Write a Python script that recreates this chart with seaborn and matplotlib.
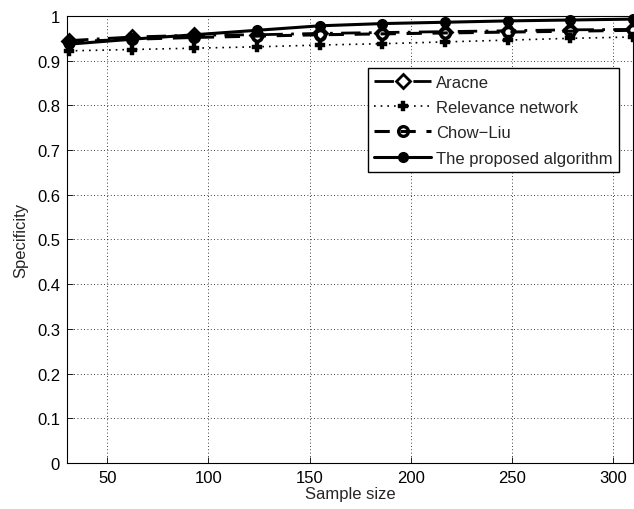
import numpy as np
import pandas as pd
import matplotlib
matplotlib.use("Agg")
import matplotlib.pyplot as plt
import seaborn as sns

# Sample sizes and specificity of each method
sample_size = [31, 62, 93, 124, 155, 186, 217, 248, 279, 310]
aracne = [0.945, 0.953, 0.957, 0.958, 0.961, 0.963, 0.965, 0.967, 0.969, 0.970]
relevance = [0.922, 0.925, 0.928, 0.931, 0.935, 0.938, 0.942, 0.946, 0.950, 0.953]
chow_liu = [0.942, 0.948, 0.952, 0.955, 0.958, 0.960, 0.962, 0.964, 0.966, 0.968]
proposed = [0.937, 0.948, 0.958, 0.968, 0.978, 0.983, 0.986, 0.989, 0.991, 0.993]

method_names = ["Aracne", "Relevance network", "Chow\u2212Liu", "The proposed algorithm"]
x_ticks = [50, 100, 150, 200, 250, 300]
y_ticks = [0, 0.1, 0.2, 0.3, 0.4, 0.5, 0.6, 0.7, 0.8, 0.9, 1]
y_tick_labels = ["0", "0.1", "0.2", "0.3", "0.4", "0.5", "0.6", "0.7", "0.8", "0.9", "1"]

df = pd.DataFrame({
    "Sample size": sample_size * 4,
    "Specificity": aracne + relevance + chow_liu + proposed,
    "Method": sum([[m] * len(sample_size) for m in method_names], []),
})

sns.set_style("ticks")
plt.rcParams["font.family"] = ["Liberation Sans", "DejaVu Sans"]
plt.rcParams["font.size"] = 12

fig = plt.figure(figsize=(6.34, 5.10), dpi=100)
ax = fig.add_axes([0.1057, 0.0902, 0.8926, 0.8765])

styles = {
    "Aracne": dict(dashes=(7, 3, 1, 3), marker="D", markersize=7.5, lw=2.0,
                   mfc="white", mec="black", mew=2.0),
    "Relevance network": dict(dashes=(1, 3), marker="P", markersize=6.5, lw=1.2,
                              mfc="black", mec="black", mew=0.3),
    "Chow\u2212Liu": dict(dashes=(5, 3.5), marker="o", markersize=7, lw=2.2,
                          mfc="none", mec="black", mew=2.4),
    "The proposed algorithm": dict(dashes=(None, None), marker="o", markersize=7, lw=2.2,
                                   mfc="black", mec="black", mew=1.0),
}

for name in method_names:
    st = styles[name]
    sub = df[df["Method"] == name]
    sns.lineplot(data=sub, x="Sample size", y="Specificity", ax=ax, color="black",
                 linewidth=st["lw"], marker=st["marker"], markersize=st["markersize"],
                 markerfacecolor=st["mfc"], markeredgecolor=st["mec"],
                 markeredgewidth=st["mew"], label=name, clip_on=False, zorder=3)
    line = ax.get_lines()[-1]
    if st["dashes"][0] is not None:
        line.set_dashes(st["dashes"])

ax.set_xlim(30, 310)
ax.set_ylim(0, 1)
ax.set_xticks(x_ticks)
ax.set_yticks(y_ticks)
ax.set_yticklabels(y_tick_labels)
ax.grid(True, color="black", linestyle=(0, (1, 3)), linewidth=0.6)
ax.tick_params(direction="in", length=4, width=0.6, labelsize=12, colors="black", pad=5)
for s in ax.spines.values():
    s.set_visible(True)
    s.set_color("black")
    s.set_linewidth(0.8)
ax.set_xlabel("Sample size", fontsize=12, labelpad=1)
ax.set_ylabel("Specificity", fontsize=12, labelpad=6)

handles, labels = ax.get_legend_handles_labels()
for h, name in zip(handles, labels):
    st = styles[name]
    if st["dashes"][0] is not None:
        h.set_dashes(st["dashes"])
leg = ax.legend(handles, labels, loc="upper right", bbox_to_anchor=(0.976, 0.884),
                borderaxespad=0, frameon=True, fancybox=False, fontsize=12,
                handlelength=3.4, handletextpad=0.3, labelspacing=0.62,
                borderpad=0.4)
leg.get_frame().set_edgecolor("black")
leg.get_frame().set_linewidth(1.0)
leg.get_frame().set_alpha(1)

fig.savefig("out.png", dpi=100)
